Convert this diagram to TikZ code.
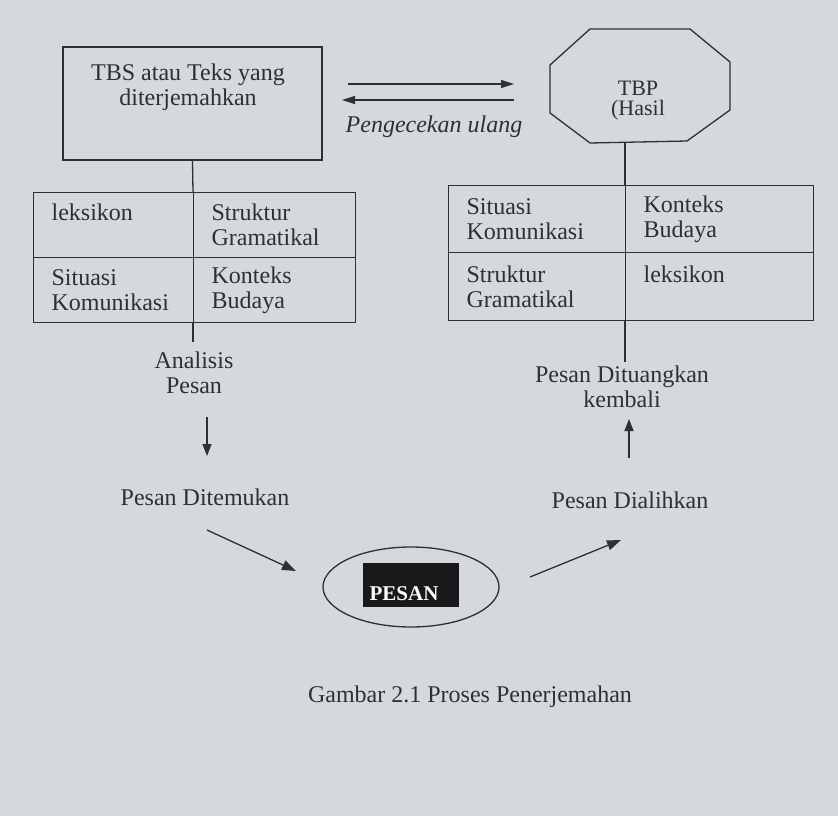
\documentclass[tikz,border=0pt]{standalone}
\usepackage{fontspec}
\setmainfont{Liberation Serif}
\usetikzlibrary{arrows.meta,shapes.geometric}
\definecolor{paper}{RGB}{214,216,220}
\definecolor{ink}{RGB}{48,48,50}
\begin{document}
\begin{tikzpicture}[x=1pt,y=-1pt,
  every node/.style={text=ink, font=\fontsize{24}{25}\selectfont, inner sep=0pt},
  ln/.style={draw=ink, line width=1.3pt},
  arr/.style={ln, -{Triangle[length=12pt,width=9pt]}},
  harr/.style={ln, -{Triangle[length=13pt,width=8pt]}},
  box/.style={draw=ink, line width=1.3pt},
  cell/.style={draw=ink, line width=1.3pt, anchor=north west, align=left, inner xsep=18pt, inner ysep=0pt},
  lbl/.style={align=center}
]
\fill[paper] (0,0) rectangle (838,816);
\useasboundingbox (0,0) rectangle (838,816);

% source text box
\node[box, minimum width=259pt, minimum height=113pt] (tbs) at (192.5,103.5) {};
\node[lbl] (tbstext) at (188,87) {TBS atau Teks yang\\diterjemahkan};

% left table
\node[cell, minimum width=160pt, minimum height=65pt, text width=124pt] (l1) at (33,192) {leksikon\\\mbox{}};
\node[cell, minimum width=162pt, minimum height=65pt, text width=126pt] (l2) at (193,192) {Struktur\\Gramatikal};
\node[cell, minimum width=160pt, minimum height=65pt, text width=124pt] (l3) at (33,257) {Situasi\\Komunikasi};
\node[cell, minimum width=162pt, minimum height=65pt, text width=126pt] (l4) at (193,257) {Konteks\\Budaya};
\draw[ln] (tbs.south) -- (l2.north west);
\coordinate (lend) at (193,342);
\draw[ln] (l4.south west) -- (lend);

\node[lbl] (analisis) at (194,373) {Analisis\\Pesan};
\coordinate (d1s) at (207,417);
\coordinate (d1e) at (207,456);
\draw[arr] (d1s) -- (d1e);
\node (ditemukan) at (205,497) {Pesan Ditemukan};
\coordinate (d2s) at (207,530);
\coordinate (d2e) at (296,571);
\draw[arr, -{Triangle[length=14pt,width=10pt]}] (d2s) -- (d2e);

% message
\node[ellipse, draw=ink, line width=1.3pt, minimum width=176pt, minimum height=80pt] (pesan) at (411,587) {};
\node[fill=black!90, minimum width=96pt, minimum height=44pt] (pbox) at (411,585) {};
\node[text=white, font=\bfseries\fontsize{21}{21}\selectfont] (ptext) at (404,594) {PESAN};

\coordinate (u2s) at (530,577);
\coordinate (u2e) at (621,540);
\draw[arr, -{Triangle[length=14pt,width=10pt]}] (u2s) -- (u2e);
\node (dialihkan) at (630,500) {Pesan Dialihkan};
\coordinate (u1s) at (629,458);
\coordinate (u1e) at (629,419);
\draw[arr] (u1s) -- (u1e);
\node[lbl] (dituangkan) at (622,387) {Pesan Dituangkan\\kembali};

% right table
\node[cell, minimum width=177pt, minimum height=67pt, text width=141pt] (r1) at (448,185) {Situasi\\Komunikasi};
\node[cell, minimum width=188pt, minimum height=67pt, text width=152pt] (r2) at (625,185) {Konteks\\Budaya};
\node[cell, minimum width=177pt, minimum height=68pt, text width=141pt] (r3) at (448,252) {Struktur\\Gramatikal};
\node[cell, minimum width=188pt, minimum height=68pt, text width=152pt] (r4) at (625,252) {leksikon\\\mbox{}};
\coordinate (rend) at (625,362);
\draw[ln] (r4.south west) -- (rend);

% target text octagon
\draw[ln] (590,29) -- (690,29) -- (730,62) -- (730,110) -- (687,141) -- (590,143) -- (550,113) -- (550,65) -- cycle;
\node[lbl, font=\fontsize{22}{20}\selectfont] (tbp) at (638,101) {TBP\\(Hasil};
\coordinate (tbpbot) at (625,142);
\draw[ln] (tbpbot) -- (r2.north west);

% re-checking arrows
\coordinate (h1s) at (348,84);
\coordinate (h1e) at (514,84);
\coordinate (h2s) at (514,100);
\coordinate (h2e) at (342,100);
\draw[harr] (h1s) -- (h1e);
\draw[harr] (h2s) -- (h2e);
\node[font=\itshape\fontsize{24}{25}\selectfont] (cek) at (434,127) {Pengecekan ulang};

% caption
\node (cap) at (470,697) {Gambar 2.1 Proses Penerjemahan};
\end{tikzpicture}
\end{document}
